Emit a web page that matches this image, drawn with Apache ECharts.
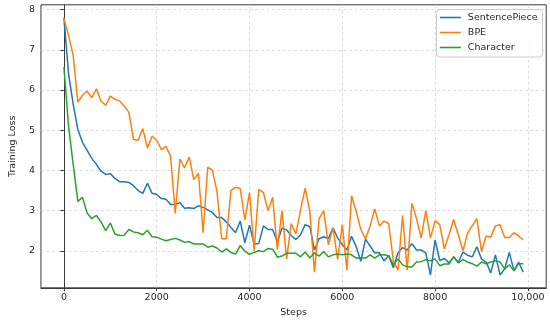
<!DOCTYPE html>
<html>
<head>
<meta charset="utf-8">
<script src="https://cdn.jsdelivr.net/npm/echarts@6/dist/echarts.min.js"></script>
<style>
html,body{margin:0;padding:0;background:#fff;}
#chart{width:550px;height:323px;}
</style>
</head>
<body>
<div id="chart"></div>
<script>
// x positions: training steps, one point every 100 steps
const steps = Array.from({length: 100}, (_, i) => i * 100);

const seriesNames = ['SentencePiece', 'BPE', 'Character'];

const sentencePiece = [
  7.80, 6.40, 5.65, 5.02, 4.70, 4.50, 4.30, 4.15, 3.98, 3.90,
  3.92, 3.80, 3.72, 3.72, 3.70, 3.62, 3.50, 3.43, 3.68, 3.43,
  3.40, 3.30, 3.28, 3.15, 3.15, 3.20, 3.06, 3.07, 3.05, 3.12,
  3.08, 3.02, 2.95, 2.83, 2.83, 2.72, 2.58, 2.45, 2.74, 2.20,
  2.64, 2.17, 2.18, 2.62, 2.53, 2.53, 2.22, 2.56, 2.52, 2.38,
  2.28, 2.40, 2.65, 2.60, 2.02, 2.30, 2.35, 2.30, 2.57, 2.32,
  2.15, 2.02, 2.36, 2.10, 1.74, 2.29, 2.12, 1.95, 1.95, 1.75,
  1.88, 1.58, 1.95, 2.08, 2.02, 2.18, 2.02, 2.02, 1.95, 1.40,
  2.27, 1.76, 1.81, 1.70, 1.85, 1.71, 1.97, 1.89, 1.85, 2.10,
  1.80, 1.72, 1.45, 1.90, 1.40, 1.55, 1.96, 1.50, 1.72, 1.47
];

const bpe = [
  7.78, 7.36, 6.86, 5.70, 5.87, 5.97, 5.81, 6.03, 5.72, 5.62,
  5.85, 5.77, 5.73, 5.60, 5.45, 4.77, 4.75, 5.04, 4.56, 4.85,
  4.75, 4.52, 4.60, 4.35, 2.93, 4.28, 4.06, 4.33, 3.77, 3.93,
  2.45, 4.08, 4.00, 3.47, 2.30, 2.30, 3.50, 3.58, 3.55, 2.77,
  3.45, 2.00, 3.53, 3.45, 3.00, 3.33, 2.03, 3.00, 1.80, 2.68,
  2.42, 3.02, 3.56, 2.98, 1.47, 2.80, 3.00, 2.15, 2.57, 1.78,
  2.65, 1.52, 3.37, 2.98, 2.53, 2.30, 2.62, 3.04, 2.62, 2.74,
  2.68, 1.75, 1.52, 2.88, 1.52, 3.18, 2.80, 2.32, 3.00, 2.32,
  2.75, 2.65, 2.05, 2.40, 2.78, 2.40, 2.00, 2.44, 2.62, 2.80,
  1.98, 2.37, 2.34, 2.62, 2.65, 2.33, 2.33, 2.45, 2.37, 2.27
];

const character = [
  6.57, 5.10, 4.15, 3.23, 3.33, 2.94, 2.80, 2.88, 2.72, 2.50,
  2.69, 2.42, 2.38, 2.39, 2.53, 2.47, 2.45, 2.40, 2.51, 2.35,
  2.34, 2.29, 2.25, 2.28, 2.31, 2.27, 2.21, 2.23, 2.17, 2.17,
  2.17, 2.09, 2.12, 2.07, 1.97, 2.05, 1.96, 1.92, 2.13, 1.99,
  1.91, 1.96, 2.00, 1.98, 2.06, 2.04, 1.84, 1.87, 1.94, 1.94,
  1.94, 1.85, 1.97, 1.82, 1.95, 1.87, 1.98, 1.85, 1.90, 1.92,
  1.90, 1.92, 1.90, 1.82, 1.83, 1.82, 1.90, 1.82, 1.90, 1.90,
  1.88, 1.65, 1.80, 1.65, 1.60, 1.60, 1.72, 1.73, 1.78, 1.75,
  1.80, 1.63, 1.67, 1.67, 1.85, 1.70, 1.78, 1.72, 1.68, 1.62,
  1.72, 1.68, 1.72, 1.75, 1.72, 1.55, 1.65, 1.50, 1.68, 1.68
];

const xTicks = [0, 2000, 4000, 6000, 8000, 10000];
const yTicks = [2, 3, 4, 5, 6, 7, 8];

const colors = ['#1f77b4', '#ff7f0e', '#2ca02c'];
const values = [sentencePiece, bpe, character];

const font = 'DejaVu Sans';
const textColor = '#262626';

const chart = echarts.init(document.getElementById('chart'), null, {renderer: 'canvas'});

const option = {
  animation: false,
  backgroundColor: '#ffffff',
  grid: {
    left: 31, right: 3.8, top: 4.8, bottom: 35.2,
    show: true, borderColor: '#3a3a3a', borderWidth: 1, backgroundColor: 'transparent'
  },
  legend: {
    data: seriesNames.map((n, k) => ({name: n, icon: 'rect', itemStyle: {color: colors[k]}})),
    orient: 'vertical',
    right: 7.5,
    top: 9.5,
    itemWidth: 21,
    itemHeight: 1.6,
    itemGap: 3,
    padding: [2, 5, 3.5, 3.3],
    backgroundColor: 'rgba(255,255,255,0.85)',
    borderColor: '#cccccc',
    borderWidth: 1,
    borderRadius: 3,
    textStyle: {fontFamily: font, fontSize: 9.5, color: textColor, lineHeight: 12, padding: [0, 0, 0, 2]}
  },
  xAxis: {
    type: 'value',
    min: -495,
    max: 10395,
    name: 'Steps',
    nameLocation: 'middle',
    nameGap: 20,
    nameTextStyle: {fontFamily: font, fontSize: 9.5, color: textColor},
    axisLine: {show: true, lineStyle: {color: '#3a3a3a', width: 1}},
    axisTick: {show: true, length: 3.5, lineStyle: {color: '#3a3a3a'},
      customValues: xTicks},
    axisLabel: {fontFamily: font, fontSize: 9.5, color: textColor, margin: 5,
      customValues: xTicks,
      formatter: v => v === 10000 ? '10,000' : String(v)},
    splitLine: {show: true, lineStyle: {color: '#d4d4d4', width: 0.8, type: [3, 2.5]}},
  },
  yAxis: {
    type: 'value',
    min: 1.08,
    max: 8.12,
    name: 'Training Loss',
    nameLocation: 'middle',
    nameGap: 19,
    nameTextStyle: {fontFamily: font, fontSize: 9.5, color: textColor},
    axisLine: {show: true, lineStyle: {color: '#3a3a3a', width: 1}},
    axisTick: {show: true, length: 3.5, lineStyle: {color: '#3a3a3a'},
      customValues: yTicks},
    axisLabel: {fontFamily: font, fontSize: 9.5, color: textColor, margin: 6,
      customValues: yTicks},
    splitLine: {show: true, lineStyle: {color: '#d4d4d4', width: 0.8, type: [3, 2.5]}},
  },
  series: seriesNames.map((name, k) => ({
    name: name,
    type: 'line',
    symbol: 'none',
    showSymbol: false,
    z: 2 + k,
    lineStyle: {color: colors[k], width: 1.5},
    itemStyle: {color: colors[k]},
    data: steps.map((s, i) => [s, values[k][i]])
  }))
};

chart.setOption(option);
</script>
</body>
</html>
